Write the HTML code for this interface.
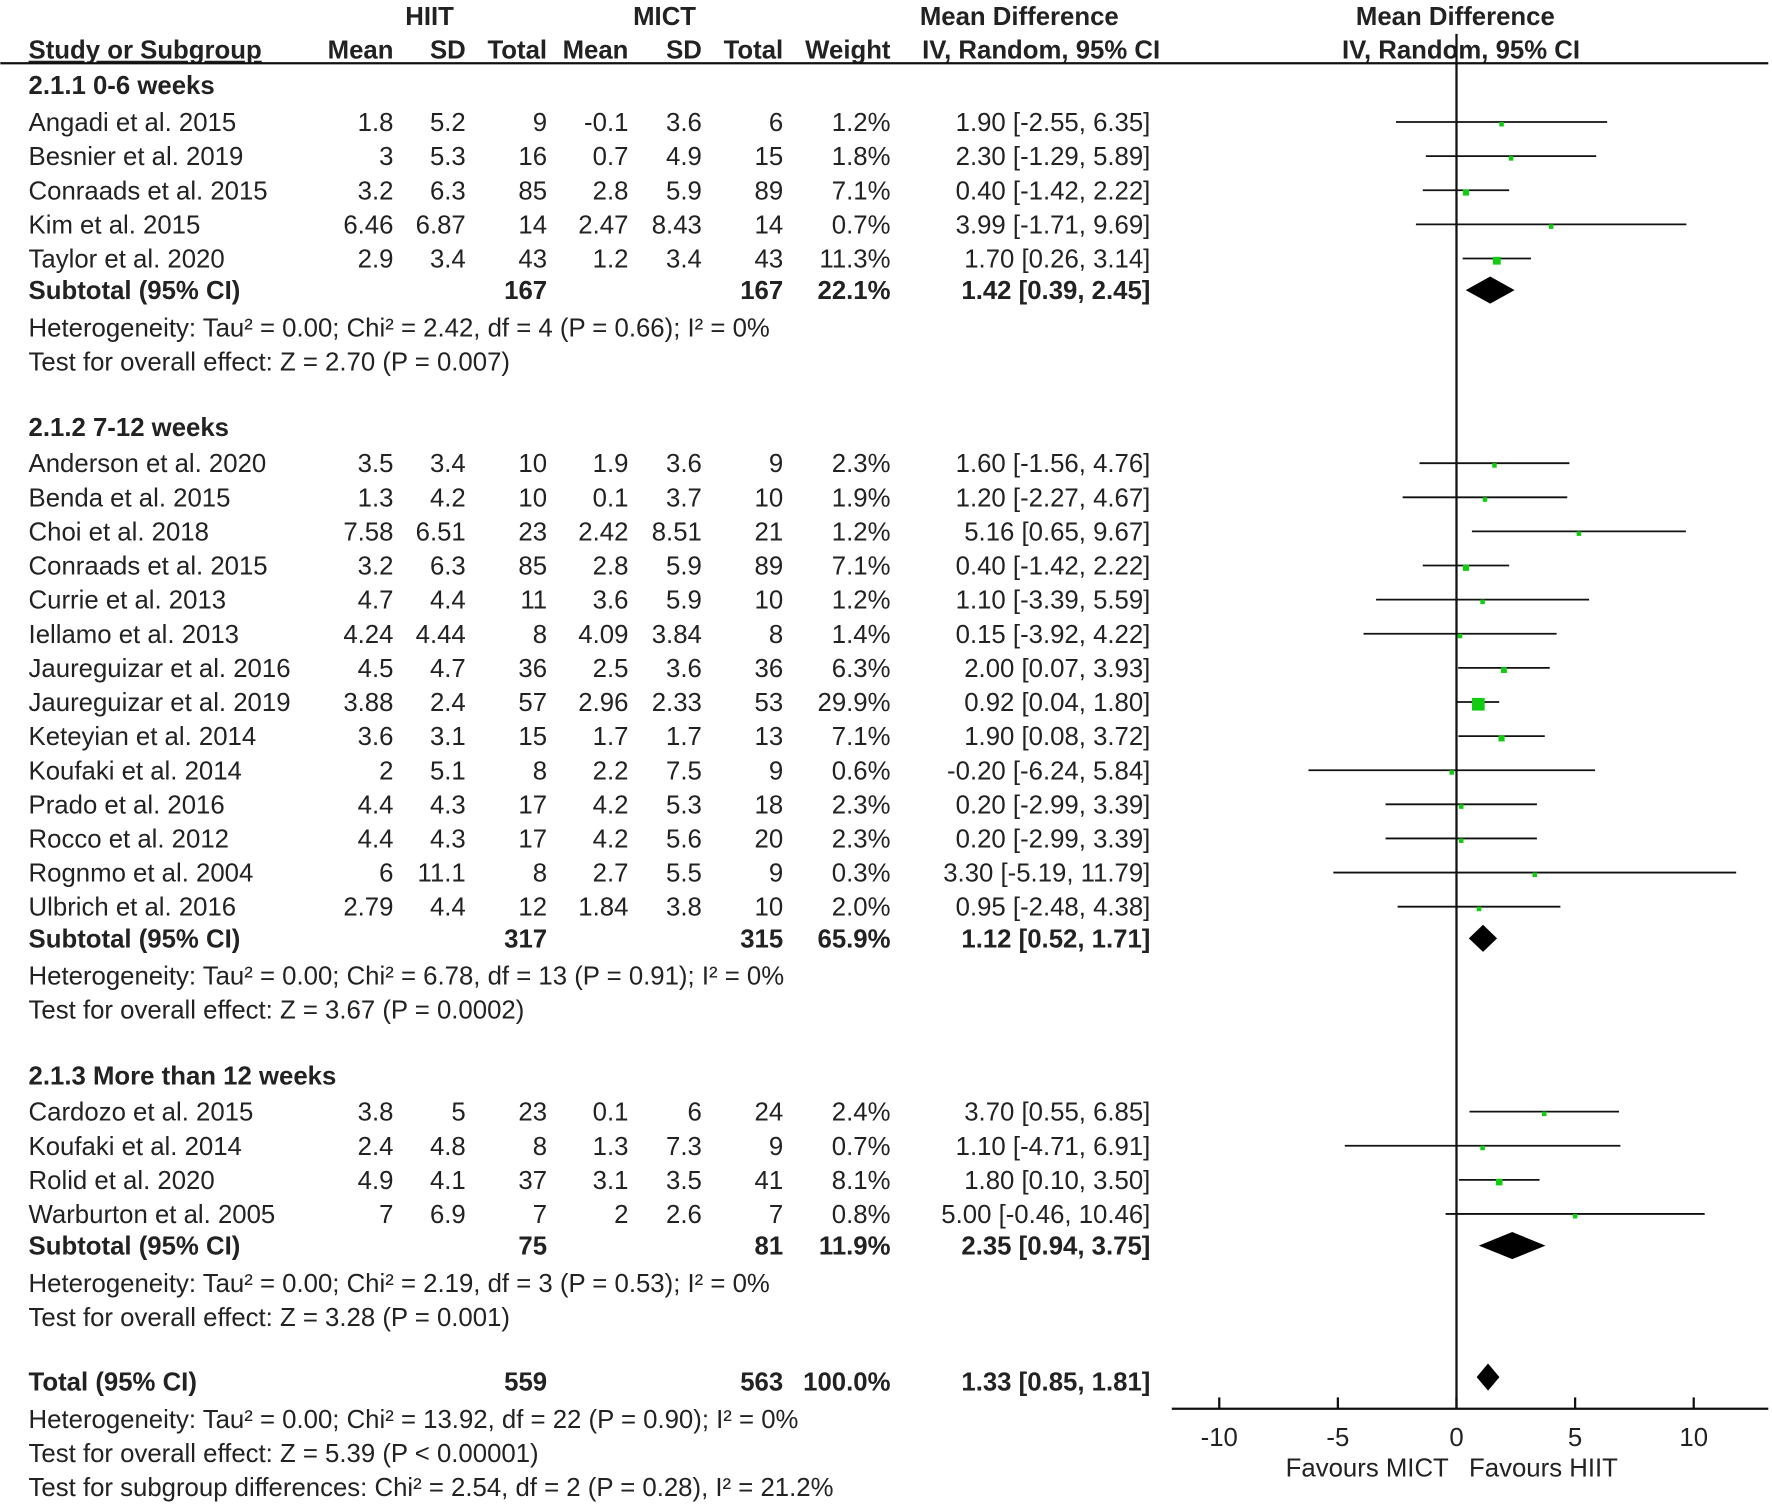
<!DOCTYPE html>
<html><head><meta charset="utf-8"><style>
html,body{margin:0;padding:0;background:#fff;}
svg{display:block;font-family:"Liberation Sans",Arial,sans-serif;}
text{font-size:22.8px;fill:#222;}
.b{font-weight:bold;}
</style></head><body>
<svg id="fp" width="1772" height="1507" viewBox="0 0 1568 1334" xmlns="http://www.w3.org/2000/svg">
<g id="hdr">
<text class="b" x="380" y="22" text-anchor="middle">HIIT</text>
<text class="b" x="588" y="22" text-anchor="middle">MICT</text>
<text class="b" x="902" y="22" text-anchor="middle">Mean Difference</text>
<text class="b" x="1288" y="22" text-anchor="middle">Mean Difference</text>
<text class="b" x="25" y="52" text-decoration="underline">Study or Subgroup</text>
<text class="b" x="348" y="52" text-anchor="end">Mean</text>
<text class="b" x="412" y="52" text-anchor="end">SD</text>
<text class="b" x="484" y="52" text-anchor="end">Total</text>
<text class="b" x="556" y="52" text-anchor="end">Mean</text>
<text class="b" x="621" y="52" text-anchor="end">SD</text>
<text class="b" x="693" y="52" text-anchor="end">Total</text>
<text class="b" x="788" y="52" text-anchor="end">Weight</text>
<text class="b" x="816" y="52">IV, Random, 95% CI</text>
<text class="b" x="1293" y="52" text-anchor="middle">IV, Random, 95% CI</text>
<line x1="0" y1="56" x2="1565" y2="56" stroke="#111" stroke-width="2"/>
</g>
<g id="body"></g>
</svg>
<script>
const studies = ["Angadi et al. 2015","Besnier et al. 2019","Conraads et al. 2015","Kim et al. 2015","Taylor et al. 2020",
"Anderson et al. 2020","Benda et al. 2015","Choi et al. 2018","Conraads et al. 2015","Currie et al. 2013","Iellamo et al. 2013","Jaureguizar et al. 2016","Jaureguizar et al. 2019","Keteyian et al. 2014","Koufaki et al. 2014","Prado et al. 2016","Rocco et al. 2012","Rognmo et al. 2004","Ulbrich et al. 2016",
"Cardozo et al. 2015","Koufaki et al. 2014","Rolid et al. 2020","Warburton et al. 2005"];
const group = [0,0,0,0,0,1,1,1,1,1,1,1,1,1,1,1,1,1,1,2,2,2,2];
const hMean = ["1.8","3","3.2","6.46","2.9","3.5","1.3","7.58","3.2","4.7","4.24","4.5","3.88","3.6","2","4.4","4.4","6","2.79","3.8","2.4","4.9","7"];
const hSD = ["5.2","5.3","6.3","6.87","3.4","3.4","4.2","6.51","6.3","4.4","4.44","4.7","2.4","3.1","5.1","4.3","4.3","11.1","4.4","5","4.8","4.1","6.9"];
const hN = [9,16,85,14,43,10,10,23,85,11,8,36,57,15,8,17,17,8,12,23,8,37,7];
const mMean = ["-0.1","0.7","2.8","2.47","1.2","1.9","0.1","2.42","2.8","3.6","4.09","2.5","2.96","1.7","2.2","4.2","4.2","2.7","1.84","0.1","1.3","3.1","2"];
const mSD = ["3.6","4.9","5.9","8.43","3.4","3.6","3.7","8.51","5.9","5.9","3.84","3.6","2.33","1.7","7.5","5.3","5.6","5.5","3.8","6","7.3","3.5","2.6"];
const mN = [6,15,89,14,43,9,10,21,89,10,8,36,53,13,9,18,20,9,10,24,9,41,7];
const weight = [1.2,1.8,7.1,0.7,11.3,2.3,1.9,1.2,7.1,1.2,1.4,6.3,29.9,7.1,0.6,2.3,2.3,0.3,2.0,2.4,0.7,8.1,0.8];
const md = [1.90,2.30,0.40,3.99,1.70,1.60,1.20,5.16,0.40,1.10,0.15,2.00,0.92,1.90,-0.20,0.20,0.20,3.30,0.95,3.70,1.10,1.80,5.00];
const lo = [-2.55,-1.29,-1.42,-1.71,0.26,-1.56,-2.27,0.65,-1.42,-3.39,-3.92,0.07,0.04,0.08,-6.24,-2.99,-2.99,-5.19,-2.48,0.55,-4.71,0.10,-0.46];
const hi = [6.35,5.89,2.22,9.69,3.14,4.76,4.67,9.67,2.22,5.59,4.22,3.93,1.80,3.72,5.84,3.39,3.39,11.79,4.38,6.85,6.91,3.50,10.46];
const groupTitles = ["2.1.1 0-6 weeks","2.1.2 7-12 weeks","2.1.3 More than 12 weeks"];
const subH = [167,317,75], subM = [167,315,81], subW = ["22.1%","65.9%","11.9%"];
const subMD = [1.42,1.12,2.35], subLo = [0.39,0.52,0.94], subHi = [2.45,1.71,3.75];
const subHet = ["Heterogeneity: Tau² = 0.00; Chi² = 2.42, df = 4 (P = 0.66); I² = 0%","Heterogeneity: Tau² = 0.00; Chi² = 6.78, df = 13 (P = 0.91); I² = 0%","Heterogeneity: Tau² = 0.00; Chi² = 2.19, df = 3 (P = 0.53); I² = 0%"];
const subTest = ["Test for overall effect: Z = 2.70 (P = 0.007)","Test for overall effect: Z = 3.67 (P = 0.0002)","Test for overall effect: Z = 3.28 (P = 0.001)"];
const totMD = 1.33, totLo = 0.85, totHi = 1.81;
const ticks = [-10,-5,0,5,10];

const NS="http://www.w3.org/2000/svg";
const body=document.getElementById('body');
const xs = v => 1289 + v*21;
function el(tag, attrs, txt){const e=document.createElementNS(NS,tag);for(const k in attrs)e.setAttribute(k,attrs[k]);if(txt!==undefined)e.textContent=txt;body.appendChild(e);return e;}
function t(x,y,s,anchor,bold){const e=el('text',{x:x,y:y+8,'text-anchor':anchor||'start'},s);if(bold)e.setAttribute('class','b');return e;}
const f2 = v => v.toFixed(2);
function diamond(m,l,h,y){const e=el('polygon',{points:`${xs(l)},${y} ${xs(m)},${y-12} ${xs(h)},${y} ${xs(m)},${y+12}`,fill:'#000'});return e;}

const groupY = [75,378,952];
const rowStart = [108,410,984];
const step = 30.2;
let y;
let zl=el('line',{x1:xs(0),y1:30,x2:xs(0),y2:1247,stroke:'#111','stroke-width':2});


for(let g=0;g<3;g++){
  let h=t(25,groupY[g],groupTitles[g],'start',true);
  
  
  let k=0;
  for(let i=0;i<studies.length;i++){ if(group[i]!==g) continue;
    y=rowStart[g]+k*step; k++;
    let n=t(25,y,studies[i]);
    
    
    const cells=[[348,hMean[i]],[412,hSD[i]],[484,hN[i]],[556,mMean[i]],[621,mSD[i]],[693,mN[i]],[788,weight[i].toFixed(1)+'%'],[1018,`${f2(md[i])} [${f2(lo[i])}, ${f2(hi[i])}]`]];
    for(const c of cells){let e=t(c[0],y,String(c[1]),'end');
      
      }
    let ln=el('line',{x1:xs(lo[i]),y1:y,x2:xs(hi[i]),y2:y,stroke:'#111','stroke-width':1.6});
    
    
    const s=Math.max(4,2.05*Math.sqrt(weight[i]));
    let sq=el('rect',{x:xs(md[i])-s/2,y:y+2-s/2,width:s,height:s,fill:'#11cc11'});
    
    
  }
  y+=28;
  const sub=[[25,'Subtotal (95% CI)','start'],[484,subH[g],'end'],[693,subM[g],'end'],[788,subW[g],'end'],[1018,`${f2(subMD[g])} [${f2(subLo[g])}, ${f2(subHi[g])}]`,'end']];
  for(const c of sub){let e=t(c[0],y,String(c[1]),c[2],true);
    
    }
  let d=diamond(subMD[g],subLo[g],subHi[g],y);
  
  
  let he=t(25,y+33,subHet[g]);
  
  
  let te=t(25,y+63,subTest[g]);
  
  
}
const tot=[[25,'Total (95% CI)','start'],[484,'559','end'],[693,'563','end'],[788,'100.0%','end'],[1018,`${f2(totMD)} [${f2(totLo)}, ${f2(totHi)}]`,'end']];
for(const c of tot){let e=t(c[0],1223,c[1],c[2],true);
  
  }
let td=diamond(totMD,totLo,totHi,1219);


const foot=["Heterogeneity: Tau² = 0.00; Chi² = 13.92, df = 22 (P = 0.90); I² = 0%","Test for overall effect: Z = 5.39 (P < 0.00001)","Test for subgroup differences: Chi² = 2.54, df = 2 (P = 0.28), I² = 21.2%"];
foot.forEach((s,i)=>{let e=t(25,1256+i*30.2,s);
  
  });
let ax=el('line',{x1:1037,y1:1247,x2:1565,y2:1247,stroke:'#111','stroke-width':2});


for(const v of ticks){
  let tk=el('line',{x1:xs(v),y1:1237,x2:xs(v),y2:1247,stroke:'#111','stroke-width':2});
  
  
  let lb=t(xs(v),1272,String(v),'middle');
  
  
}
let fm=t(1210,1299,'Favours MICT','middle');


let fh=t(1366,1299,'Favours HIIT','middle');


</script>
</body></html>
